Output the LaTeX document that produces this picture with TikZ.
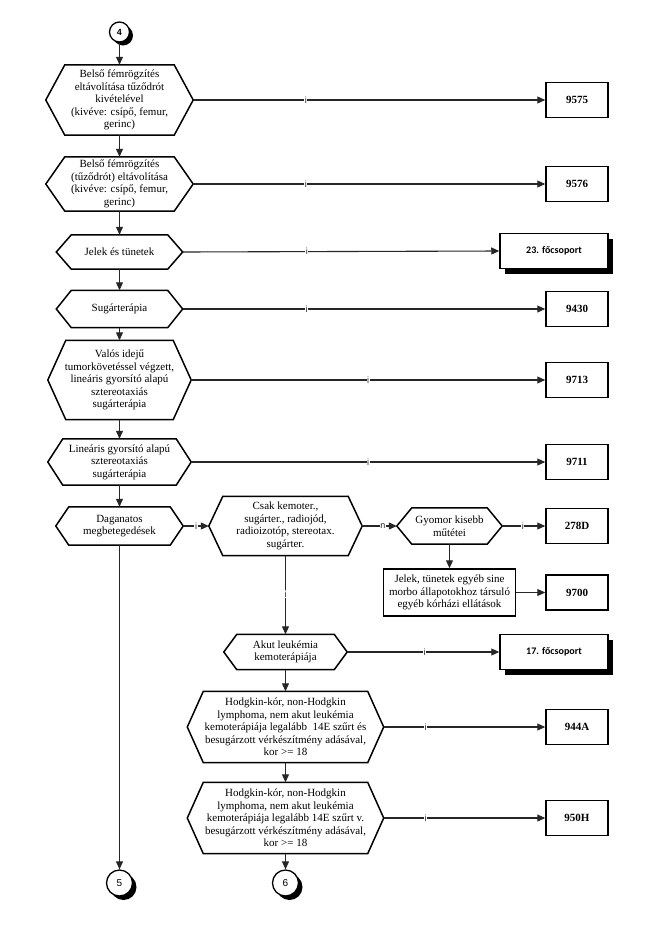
\documentclass[tikz,border=0pt]{standalone}
\usepackage{fontspec}
\setmainfont{Liberation Serif}
\newfontfamily\lsans{Liberation Sans}
\newfontfamily\carl{Carlito}
\usetikzlibrary{arrows.meta,shadows}
\newcommand\hexdraw[2]{\draw[hexline] (#1.west) -- ([xshift=#2]#1.north west) -- ([xshift=-#2]#1.north east) -- (#1.east) -- ([xshift=-#2]#1.south east) -- ([xshift=#2]#1.south west) -- cycle;}
\begin{document}
\begin{tikzpicture}[x=1pt,y=-1pt,
  hexa/.style={inner sep=0pt, align=center, font=\fontsize{11}{12.5}\selectfont},
  hexline/.style={line width=1.5pt, line join=miter, draw=black},
  codebox/.style={draw=black, line width=1.5pt, fill=white, inner sep=0pt, minimum width=62pt, minimum height=35pt, font=\fontsize{11}{13}\selectfont\bfseries},
  grpbox/.style={draw=black, line width=1.5pt, fill=white, inner sep=0pt, minimum width=108pt, minimum height=35pt, font=\carl\fontsize{10}{12}\selectfont\bfseries, drop shadow={shadow xshift=5pt, shadow yshift=-5pt, fill=black, opacity=1}},
  txtbox/.style={draw=black, line width=1.5pt, fill=white, inner sep=0pt, align=center, font=\fontsize{11}{12.5}\selectfont},
  conn/.style={draw=black!85, line width=1.1pt, -{Triangle[length=8pt,width=7pt]}},
  lbl/.style={font=\lsans\fontsize{9}{10}\selectfont, fill=white, inner sep=0.6pt, text=black!85},
  smallcirc/.style={circle, draw=black, line width=1.3pt, fill=white, inner sep=0pt, minimum size=20pt, font=\lsans\fontsize{9}{10}\selectfont\bfseries, drop shadow={shadow xshift=3.5pt, shadow yshift=-3.5pt, fill=black, opacity=1}},
  bigcirc/.style={circle, draw=black, line width=1.3pt, fill=white, inner sep=0pt, minimum size=26pt, font=\lsans\fontsize{10}{11}\selectfont, drop shadow={shadow xshift=4pt, shadow yshift=-4pt, fill=black, opacity=1}}
]
\useasboundingbox[fill=white] (0,0) rectangle (657,946);

% main column
\node[smallcirc] (c4) at (119.5,32) {4};
\node[hexa, minimum width=147pt, minimum height=70pt] (h1) at (119.5,100) {Belső fémrögzítés\\eltávolítása tűződrót\\kivételével\\(kivéve: csípő, femur,\\gerinc)};
\node[hexa, minimum width=147pt, minimum height=54pt] (h2) at (119.5,184) {Belső fémrögzítés\\(tűződrót) eltávolítása\\(kivéve: csípő, femur,\\gerinc)};
\node[hexa, minimum width=126pt, minimum height=34pt] (h3) at (119.5,252) {Jelek és tünetek};
\node[hexa, minimum width=126pt, minimum height=37pt] (h4) at (119.5,309) {Sugárterápia};
\node[hexa, minimum width=143pt, minimum height=79pt] (h5) at (119.5,380) {Valós idejű\\tumorkövetéssel végzett,\\lineáris gyorsító alapú\\sztereotaxiás\\sugárterápia};
\node[hexa, minimum width=143pt, minimum height=46pt] (h6) at (119.5,462) {Lineáris gyorsító alapú\\sztereotaxiás\\sugárterápia};
\node[hexa, minimum width=127pt, minimum height=38pt] (h7) at (119.5,526) {Daganatos\\megbetegedések};
\node[bigcirc] (c5) at (119.5,883) {5};

% middle column
\node[hexa, minimum width=153pt, minimum height=59pt] (csak) at (285.5,526) {Csak kemoter.,\\sugárter., radiojód,\\radioizotóp, stereotax.\\sugárter.};
\node[hexa, minimum width=105pt, minimum height=36pt] (gyomor) at (449.5,526) {Gyomor kisebb\\műtétei};
\node[txtbox, minimum width=132pt, minimum height=47pt] (jelek2) at (449.5,592.5) {Jelek, tünetek egyéb sine\\morbo állapotokhoz társuló\\egyéb kórházi ellátások};
\node[hexa, minimum width=123pt, minimum height=35pt] (akut) at (285.5,652) {Akut leukémia\\kemoterápiája};
\node[hexa, minimum width=196pt, minimum height=71pt] (hod1) at (285.5,727) {Hodgkin-kór, non-Hodgkin\\lymphoma, nem akut leukémia\\kemoterápiája legalább\ \ 14E szűrt és\\besugárzott vérkészítmény adásával,\\kor >= 18};
\node[hexa, minimum width=196pt, minimum height=71pt] (hod2) at (285.5,818) {Hodgkin-kór, non-Hodgkin\\lymphoma, nem akut leukémia\\kemoterápiája legalább 14E szűrt v.\\besugárzott vérkészítmény adásával,\\kor >= 18};
\node[bigcirc] (c6) at (285.5,883) {6};

% hexagon outlines
\hexdraw{h1}{19}
\hexdraw{h2}{19}
\hexdraw{h3}{15}
\hexdraw{h4}{15}
\hexdraw{h5}{18}
\hexdraw{h6}{15}
\hexdraw{h7}{13}
\hexdraw{csak}{14}
\hexdraw{gyomor}{15}
\hexdraw{akut}{13}
\hexdraw{hod1}{16}
\hexdraw{hod2}{16}

% right column
\node[codebox] (b9575) at (577,100) {9575};
\node[codebox] (b9576) at (577,184) {9576};
\node[grpbox] (b23) at (554,251) {23. főcsoport};
\node[codebox] (b9430) at (577,309) {9430};
\node[codebox] (b9713) at (577,380) {9713};
\node[codebox] (b9711) at (577,462) {9711};
\node[codebox] (b278) at (577,526) {278D};
\node[codebox] (b9700) at (577,592.5) {9700};
\node[grpbox] (b17) at (554,652) {17. főcsoport};
\node[codebox] (b944) at (577,727) {944A};
\node[codebox] (b950) at (577,818) {950H};

% vertical connectors
\draw[conn] (c4) -- (h1.north);
\draw[conn] (h1.south) -- (h2.north);
\draw[conn] (h2.south) -- (h3.north);
\draw[conn] (h3.south) -- (h4.north);
\draw[conn] (h4.south) -- (h5.north);
\draw[conn] (h5.south) -- (h6.north);
\draw[conn] (h6.south) -- (h7.north);
\draw[conn] (h7.south) -- (c5.north);
\draw[conn] (gyomor.south) -- (jelek2.north);
\draw[conn] (csak.south) -- node[lbl, pos=0.49] (lca) {i} (akut.north);
\draw[conn] (akut.south) -- (hod1.north);
\draw[conn] (hod1.south) -- (hod2.north);
\draw[conn] (hod2.south) -- (c6.north);

% horizontal connectors
\draw[conn] (h1.east) -- node[lbl, pos=0.32] (l1) {i} (b9575.west);
\draw[conn] (h2.east) -- node[lbl, pos=0.32] (l2) {i} (b9576.west);
\draw[conn] (h3.east) -- node[lbl, pos=0.392] (l3) {i} (b23.west);
\draw[conn] (h4.east) -- node[lbl, pos=0.342] (l4) {i} (b9430.west);
\draw[conn] (h5.east) -- node[lbl, pos=0.5] (l5) {i} (b9713.west);
\draw[conn] (h6.east) -- node[lbl, pos=0.5] (l6) {i} (b9711.west);
\draw[conn] (h7.east) -- node[lbl, pos=0.5] (l7) {i} (csak.west);
\draw[conn] (csak.east) -- node[lbl, pos=0.6] (l8) {n} (gyomor.west);
\draw[conn] (gyomor.east) -- node[lbl, pos=0.48] (l9) {i} (b278.west);
\draw[conn] (jelek2.east) -- (b9700.west);
\draw[conn] (akut.east) -- node[lbl, pos=0.51] (l10) {i} (b17.west);
\draw[conn] (hod1.east) -- node[lbl, pos=0.26] (l11) {i} (b944.west);
\draw[conn] (hod2.east) -- node[lbl, pos=0.26] (l12) {i} (b950.west);
\end{tikzpicture}
\end{document}
